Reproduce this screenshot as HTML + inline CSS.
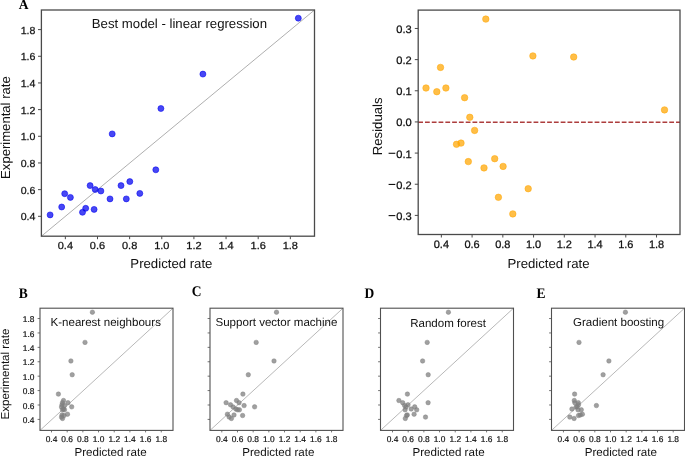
<!DOCTYPE html>
<html><head><meta charset="utf-8"><style>
html,body{margin:0;padding:0;background:#fff;}
body{width:685px;height:457px;overflow:hidden;font-family:"Liberation Sans", sans-serif;}
svg{display:block;will-change:transform;text-rendering:geometricPrecision;}
</style></head><body>
<svg width="685" height="457" viewBox="0 0 685 457">
<rect width="685" height="457" fill="#fff"/>
<line x1="41.4" y1="236.2" x2="314.5" y2="10" stroke="#9a9a9a" stroke-width="0.8"/>
<circle cx="50.1" cy="214.9" r="3" fill="#0000f0" fill-opacity="0.72" stroke="#0000f0" stroke-opacity="0.72" stroke-width="0.75"/>
<circle cx="61.7" cy="207" r="3" fill="#0000f0" fill-opacity="0.72" stroke="#0000f0" stroke-opacity="0.72" stroke-width="0.75"/>
<circle cx="64.7" cy="193.7" r="3" fill="#0000f0" fill-opacity="0.72" stroke="#0000f0" stroke-opacity="0.72" stroke-width="0.75"/>
<circle cx="70.4" cy="197.4" r="3" fill="#0000f0" fill-opacity="0.72" stroke="#0000f0" stroke-opacity="0.72" stroke-width="0.75"/>
<circle cx="82.5" cy="212.3" r="3" fill="#0000f0" fill-opacity="0.72" stroke="#0000f0" stroke-opacity="0.72" stroke-width="0.75"/>
<circle cx="85.7" cy="208.3" r="3" fill="#0000f0" fill-opacity="0.72" stroke="#0000f0" stroke-opacity="0.72" stroke-width="0.75"/>
<circle cx="90.1" cy="185.6" r="3" fill="#0000f0" fill-opacity="0.72" stroke="#0000f0" stroke-opacity="0.72" stroke-width="0.75"/>
<circle cx="94.1" cy="209.4" r="3" fill="#0000f0" fill-opacity="0.72" stroke="#0000f0" stroke-opacity="0.72" stroke-width="0.75"/>
<circle cx="95.2" cy="189.5" r="3" fill="#0000f0" fill-opacity="0.72" stroke="#0000f0" stroke-opacity="0.72" stroke-width="0.75"/>
<circle cx="100.9" cy="191" r="3" fill="#0000f0" fill-opacity="0.72" stroke="#0000f0" stroke-opacity="0.72" stroke-width="0.75"/>
<circle cx="110" cy="198.9" r="3" fill="#0000f0" fill-opacity="0.72" stroke="#0000f0" stroke-opacity="0.72" stroke-width="0.75"/>
<circle cx="121" cy="185.6" r="3" fill="#0000f0" fill-opacity="0.72" stroke="#0000f0" stroke-opacity="0.72" stroke-width="0.75"/>
<circle cx="126.3" cy="198.9" r="3" fill="#0000f0" fill-opacity="0.72" stroke="#0000f0" stroke-opacity="0.72" stroke-width="0.75"/>
<circle cx="129.8" cy="181.6" r="3" fill="#0000f0" fill-opacity="0.72" stroke="#0000f0" stroke-opacity="0.72" stroke-width="0.75"/>
<circle cx="139.8" cy="193.4" r="3" fill="#0000f0" fill-opacity="0.72" stroke="#0000f0" stroke-opacity="0.72" stroke-width="0.75"/>
<circle cx="155.8" cy="169.8" r="3" fill="#0000f0" fill-opacity="0.72" stroke="#0000f0" stroke-opacity="0.72" stroke-width="0.75"/>
<circle cx="112.2" cy="133.9" r="3" fill="#0000f0" fill-opacity="0.72" stroke="#0000f0" stroke-opacity="0.72" stroke-width="0.75"/>
<circle cx="160.9" cy="108.5" r="3" fill="#0000f0" fill-opacity="0.72" stroke="#0000f0" stroke-opacity="0.72" stroke-width="0.75"/>
<circle cx="202.9" cy="74.1" r="3" fill="#0000f0" fill-opacity="0.72" stroke="#0000f0" stroke-opacity="0.72" stroke-width="0.75"/>
<circle cx="298.3" cy="18.2" r="3" fill="#0000f0" fill-opacity="0.72" stroke="#0000f0" stroke-opacity="0.72" stroke-width="0.75"/>
<rect x="41.4" y="10" width="273.1" height="226.2" fill="none" stroke="#4a4a4a" stroke-width="1.3"/>
<line x1="38" y1="216.3" x2="41.4" y2="216.3" stroke="#4a4a4a" stroke-width="1.0"/>
<text x="0" y="0" font-size="10.2" text-anchor="end" font-family='"Liberation Sans", sans-serif' font-weight="normal" fill="#111" stroke="#111" stroke-width="0.25" transform="translate(35.4 220.3) scale(1.04 1)">0.4</text>
<line x1="65.35" y1="236.2" x2="65.35" y2="239.2" stroke="#4a4a4a" stroke-width="1.0"/>
<text x="0" y="0" font-size="10.2" text-anchor="middle" font-family='"Liberation Sans", sans-serif' font-weight="normal" fill="#111" stroke="#111" stroke-width="0.25" transform="translate(65.35 248.8) scale(1.08 1)">0.4</text>
<line x1="38" y1="189.63" x2="41.4" y2="189.63" stroke="#4a4a4a" stroke-width="1.0"/>
<text x="0" y="0" font-size="10.2" text-anchor="end" font-family='"Liberation Sans", sans-serif' font-weight="normal" fill="#111" stroke="#111" stroke-width="0.25" transform="translate(35.4 193.63) scale(1.04 1)">0.6</text>
<line x1="97.49" y1="236.2" x2="97.49" y2="239.2" stroke="#4a4a4a" stroke-width="1.0"/>
<text x="0" y="0" font-size="10.2" text-anchor="middle" font-family='"Liberation Sans", sans-serif' font-weight="normal" fill="#111" stroke="#111" stroke-width="0.25" transform="translate(97.49 248.8) scale(1.08 1)">0.6</text>
<line x1="38" y1="162.96" x2="41.4" y2="162.96" stroke="#4a4a4a" stroke-width="1.0"/>
<text x="0" y="0" font-size="10.2" text-anchor="end" font-family='"Liberation Sans", sans-serif' font-weight="normal" fill="#111" stroke="#111" stroke-width="0.25" transform="translate(35.4 166.96) scale(1.04 1)">0.8</text>
<line x1="129.63" y1="236.2" x2="129.63" y2="239.2" stroke="#4a4a4a" stroke-width="1.0"/>
<text x="0" y="0" font-size="10.2" text-anchor="middle" font-family='"Liberation Sans", sans-serif' font-weight="normal" fill="#111" stroke="#111" stroke-width="0.25" transform="translate(129.63 248.8) scale(1.08 1)">0.8</text>
<line x1="38" y1="136.28" x2="41.4" y2="136.28" stroke="#4a4a4a" stroke-width="1.0"/>
<text x="0" y="0" font-size="10.2" text-anchor="end" font-family='"Liberation Sans", sans-serif' font-weight="normal" fill="#111" stroke="#111" stroke-width="0.25" transform="translate(35.4 140.28) scale(1.04 1)">1.0</text>
<line x1="161.77" y1="236.2" x2="161.77" y2="239.2" stroke="#4a4a4a" stroke-width="1.0"/>
<text x="0" y="0" font-size="10.2" text-anchor="middle" font-family='"Liberation Sans", sans-serif' font-weight="normal" fill="#111" stroke="#111" stroke-width="0.25" transform="translate(161.77 248.8) scale(1.08 1)">1.0</text>
<line x1="38" y1="109.61" x2="41.4" y2="109.61" stroke="#4a4a4a" stroke-width="1.0"/>
<text x="0" y="0" font-size="10.2" text-anchor="end" font-family='"Liberation Sans", sans-serif' font-weight="normal" fill="#111" stroke="#111" stroke-width="0.25" transform="translate(35.4 113.61) scale(1.04 1)">1.2</text>
<line x1="193.91" y1="236.2" x2="193.91" y2="239.2" stroke="#4a4a4a" stroke-width="1.0"/>
<text x="0" y="0" font-size="10.2" text-anchor="middle" font-family='"Liberation Sans", sans-serif' font-weight="normal" fill="#111" stroke="#111" stroke-width="0.25" transform="translate(193.91 248.8) scale(1.08 1)">1.2</text>
<line x1="38" y1="82.94" x2="41.4" y2="82.94" stroke="#4a4a4a" stroke-width="1.0"/>
<text x="0" y="0" font-size="10.2" text-anchor="end" font-family='"Liberation Sans", sans-serif' font-weight="normal" fill="#111" stroke="#111" stroke-width="0.25" transform="translate(35.4 86.94) scale(1.04 1)">1.4</text>
<line x1="226.05" y1="236.2" x2="226.05" y2="239.2" stroke="#4a4a4a" stroke-width="1.0"/>
<text x="0" y="0" font-size="10.2" text-anchor="middle" font-family='"Liberation Sans", sans-serif' font-weight="normal" fill="#111" stroke="#111" stroke-width="0.25" transform="translate(226.05 248.8) scale(1.08 1)">1.4</text>
<line x1="38" y1="56.27" x2="41.4" y2="56.27" stroke="#4a4a4a" stroke-width="1.0"/>
<text x="0" y="0" font-size="10.2" text-anchor="end" font-family='"Liberation Sans", sans-serif' font-weight="normal" fill="#111" stroke="#111" stroke-width="0.25" transform="translate(35.4 60.27) scale(1.04 1)">1.6</text>
<line x1="258.19" y1="236.2" x2="258.19" y2="239.2" stroke="#4a4a4a" stroke-width="1.0"/>
<text x="0" y="0" font-size="10.2" text-anchor="middle" font-family='"Liberation Sans", sans-serif' font-weight="normal" fill="#111" stroke="#111" stroke-width="0.25" transform="translate(258.19 248.8) scale(1.08 1)">1.6</text>
<line x1="38" y1="29.6" x2="41.4" y2="29.6" stroke="#4a4a4a" stroke-width="1.0"/>
<text x="0" y="0" font-size="10.2" text-anchor="end" font-family='"Liberation Sans", sans-serif' font-weight="normal" fill="#111" stroke="#111" stroke-width="0.25" transform="translate(35.4 33.6) scale(1.04 1)">1.8</text>
<line x1="290.33" y1="236.2" x2="290.33" y2="239.2" stroke="#4a4a4a" stroke-width="1.0"/>
<text x="0" y="0" font-size="10.2" text-anchor="middle" font-family='"Liberation Sans", sans-serif' font-weight="normal" fill="#111" stroke="#111" stroke-width="0.25" transform="translate(290.33 248.8) scale(1.08 1)">1.8</text>
<text x="179.4" y="27.9" font-size="13.2" text-anchor="middle" font-family='"Liberation Sans", sans-serif' font-weight="normal" fill="#111">Best model - linear regression</text>
<text x="171.4" y="267.9" font-size="13.2" text-anchor="middle" font-family='"Liberation Sans", sans-serif' font-weight="normal" fill="#111">Predicted rate</text>
<text x="9.8" y="127.6" font-size="13.1" text-anchor="middle" font-family='"Liberation Sans", sans-serif' font-weight="normal" fill="#111" transform="rotate(-90 9.8 127.6)">Experimental rate</text>
<text transform="translate(23.5 9.1) scale(1 1.0)" x="0" y="0" font-size="13.5" text-anchor="middle" font-family='"Liberation Serif", serif' font-weight="bold" fill="#000">A</text>
<line x1="418.2" y1="122.15" x2="680" y2="122.15" stroke="#ad3d3d" stroke-width="1.55" stroke-dasharray="4.78 2.005"/>
<circle cx="440.5" cy="67.4" r="3.25" fill="#ffa500" fill-opacity="0.72" stroke="#ffa500" stroke-opacity="0.72" stroke-width="0.7"/>
<circle cx="426" cy="88" r="3.25" fill="#ffa500" fill-opacity="0.72" stroke="#ffa500" stroke-opacity="0.72" stroke-width="0.7"/>
<circle cx="436.8" cy="91.7" r="3.25" fill="#ffa500" fill-opacity="0.72" stroke="#ffa500" stroke-opacity="0.72" stroke-width="0.7"/>
<circle cx="445.9" cy="88" r="3.25" fill="#ffa500" fill-opacity="0.72" stroke="#ffa500" stroke-opacity="0.72" stroke-width="0.7"/>
<circle cx="464.6" cy="97.7" r="3.25" fill="#ffa500" fill-opacity="0.72" stroke="#ffa500" stroke-opacity="0.72" stroke-width="0.7"/>
<circle cx="469.8" cy="117.3" r="3.25" fill="#ffa500" fill-opacity="0.72" stroke="#ffa500" stroke-opacity="0.72" stroke-width="0.7"/>
<circle cx="474.6" cy="130.4" r="3.25" fill="#ffa500" fill-opacity="0.72" stroke="#ffa500" stroke-opacity="0.72" stroke-width="0.7"/>
<circle cx="456.5" cy="144.3" r="3.25" fill="#ffa500" fill-opacity="0.72" stroke="#ffa500" stroke-opacity="0.72" stroke-width="0.7"/>
<circle cx="461" cy="143.1" r="3.25" fill="#ffa500" fill-opacity="0.72" stroke="#ffa500" stroke-opacity="0.72" stroke-width="0.7"/>
<circle cx="468.3" cy="161.6" r="3.25" fill="#ffa500" fill-opacity="0.72" stroke="#ffa500" stroke-opacity="0.72" stroke-width="0.7"/>
<circle cx="484" cy="167.9" r="3.25" fill="#ffa500" fill-opacity="0.72" stroke="#ffa500" stroke-opacity="0.72" stroke-width="0.7"/>
<circle cx="494.7" cy="158.7" r="3.25" fill="#ffa500" fill-opacity="0.72" stroke="#ffa500" stroke-opacity="0.72" stroke-width="0.7"/>
<circle cx="503.1" cy="166.4" r="3.25" fill="#ffa500" fill-opacity="0.72" stroke="#ffa500" stroke-opacity="0.72" stroke-width="0.7"/>
<circle cx="528.2" cy="188.7" r="3.25" fill="#ffa500" fill-opacity="0.72" stroke="#ffa500" stroke-opacity="0.72" stroke-width="0.7"/>
<circle cx="498.4" cy="197.3" r="3.25" fill="#ffa500" fill-opacity="0.72" stroke="#ffa500" stroke-opacity="0.72" stroke-width="0.7"/>
<circle cx="512.8" cy="213.9" r="3.25" fill="#ffa500" fill-opacity="0.72" stroke="#ffa500" stroke-opacity="0.72" stroke-width="0.7"/>
<circle cx="532.9" cy="55.9" r="3.25" fill="#ffa500" fill-opacity="0.72" stroke="#ffa500" stroke-opacity="0.72" stroke-width="0.7"/>
<circle cx="573.7" cy="57" r="3.25" fill="#ffa500" fill-opacity="0.72" stroke="#ffa500" stroke-opacity="0.72" stroke-width="0.7"/>
<circle cx="664.5" cy="109.9" r="3.25" fill="#ffa500" fill-opacity="0.72" stroke="#ffa500" stroke-opacity="0.72" stroke-width="0.7"/>
<circle cx="485.8" cy="19.1" r="3.25" fill="#ffa500" fill-opacity="0.72" stroke="#ffa500" stroke-opacity="0.72" stroke-width="0.7"/>
<rect x="418.2" y="10.1" width="261.8" height="224.4" fill="none" stroke="#4a4a4a" stroke-width="1.3"/>
<line x1="414.8" y1="28.47" x2="418.2" y2="28.47" stroke="#4a4a4a" stroke-width="1.0"/>
<text x="0" y="0" font-size="10.8" text-anchor="end" font-family='"Liberation Sans", sans-serif' font-weight="normal" fill="#111" stroke="#111" stroke-width="0.25" transform="translate(411.8 32.97) scale(1.03 1)">0.3</text>
<line x1="414.8" y1="59.62" x2="418.2" y2="59.62" stroke="#4a4a4a" stroke-width="1.0"/>
<text x="0" y="0" font-size="10.8" text-anchor="end" font-family='"Liberation Sans", sans-serif' font-weight="normal" fill="#111" stroke="#111" stroke-width="0.25" transform="translate(411.8 64.12) scale(1.03 1)">0.2</text>
<line x1="414.8" y1="90.78" x2="418.2" y2="90.78" stroke="#4a4a4a" stroke-width="1.0"/>
<text x="0" y="0" font-size="10.8" text-anchor="end" font-family='"Liberation Sans", sans-serif' font-weight="normal" fill="#111" stroke="#111" stroke-width="0.25" transform="translate(411.8 95.28) scale(1.03 1)">0.1</text>
<line x1="414.8" y1="121.93" x2="418.2" y2="121.93" stroke="#4a4a4a" stroke-width="1.0"/>
<text x="0" y="0" font-size="10.8" text-anchor="end" font-family='"Liberation Sans", sans-serif' font-weight="normal" fill="#111" stroke="#111" stroke-width="0.25" transform="translate(411.8 126.43) scale(1.03 1)">0.0</text>
<line x1="414.8" y1="153.09" x2="418.2" y2="153.09" stroke="#4a4a4a" stroke-width="1.0"/>
<text x="0" y="0" font-size="10.8" text-anchor="end" font-family='"Liberation Sans", sans-serif' font-weight="normal" fill="#111" stroke="#111" stroke-width="0.25" transform="translate(411.8 157.59) scale(1.03 1)">0.1</text>
<rect x="388.6" y="152.74" width="6.7" height="1.1" fill="#111"/>
<line x1="414.8" y1="184.24" x2="418.2" y2="184.24" stroke="#4a4a4a" stroke-width="1.0"/>
<text x="0" y="0" font-size="10.8" text-anchor="end" font-family='"Liberation Sans", sans-serif' font-weight="normal" fill="#111" stroke="#111" stroke-width="0.25" transform="translate(411.8 188.74) scale(1.03 1)">0.2</text>
<rect x="388.6" y="183.89" width="6.7" height="1.1" fill="#111"/>
<line x1="414.8" y1="215.4" x2="418.2" y2="215.4" stroke="#4a4a4a" stroke-width="1.0"/>
<text x="0" y="0" font-size="10.8" text-anchor="end" font-family='"Liberation Sans", sans-serif' font-weight="normal" fill="#111" stroke="#111" stroke-width="0.25" transform="translate(411.8 219.9) scale(1.03 1)">0.3</text>
<rect x="388.6" y="215.05" width="6.7" height="1.1" fill="#111"/>
<line x1="441.35" y1="234.5" x2="441.35" y2="237.5" stroke="#4a4a4a" stroke-width="1.0"/>
<text x="0" y="0" font-size="10.8" text-anchor="middle" font-family='"Liberation Sans", sans-serif' font-weight="normal" fill="#111" stroke="#111" stroke-width="0.25" transform="translate(441.35 248.2) scale(1.02 1)">0.4</text>
<line x1="472.09" y1="234.5" x2="472.09" y2="237.5" stroke="#4a4a4a" stroke-width="1.0"/>
<text x="0" y="0" font-size="10.8" text-anchor="middle" font-family='"Liberation Sans", sans-serif' font-weight="normal" fill="#111" stroke="#111" stroke-width="0.25" transform="translate(472.09 248.2) scale(1.02 1)">0.6</text>
<line x1="502.83" y1="234.5" x2="502.83" y2="237.5" stroke="#4a4a4a" stroke-width="1.0"/>
<text x="0" y="0" font-size="10.8" text-anchor="middle" font-family='"Liberation Sans", sans-serif' font-weight="normal" fill="#111" stroke="#111" stroke-width="0.25" transform="translate(502.83 248.2) scale(1.02 1)">0.8</text>
<line x1="533.57" y1="234.5" x2="533.57" y2="237.5" stroke="#4a4a4a" stroke-width="1.0"/>
<text x="0" y="0" font-size="10.8" text-anchor="middle" font-family='"Liberation Sans", sans-serif' font-weight="normal" fill="#111" stroke="#111" stroke-width="0.25" transform="translate(533.57 248.2) scale(1.02 1)">1.0</text>
<line x1="564.31" y1="234.5" x2="564.31" y2="237.5" stroke="#4a4a4a" stroke-width="1.0"/>
<text x="0" y="0" font-size="10.8" text-anchor="middle" font-family='"Liberation Sans", sans-serif' font-weight="normal" fill="#111" stroke="#111" stroke-width="0.25" transform="translate(564.31 248.2) scale(1.02 1)">1.2</text>
<line x1="595.05" y1="234.5" x2="595.05" y2="237.5" stroke="#4a4a4a" stroke-width="1.0"/>
<text x="0" y="0" font-size="10.8" text-anchor="middle" font-family='"Liberation Sans", sans-serif' font-weight="normal" fill="#111" stroke="#111" stroke-width="0.25" transform="translate(595.05 248.2) scale(1.02 1)">1.4</text>
<line x1="625.79" y1="234.5" x2="625.79" y2="237.5" stroke="#4a4a4a" stroke-width="1.0"/>
<text x="0" y="0" font-size="10.8" text-anchor="middle" font-family='"Liberation Sans", sans-serif' font-weight="normal" fill="#111" stroke="#111" stroke-width="0.25" transform="translate(625.79 248.2) scale(1.02 1)">1.6</text>
<line x1="656.53" y1="234.5" x2="656.53" y2="237.5" stroke="#4a4a4a" stroke-width="1.0"/>
<text x="0" y="0" font-size="10.8" text-anchor="middle" font-family='"Liberation Sans", sans-serif' font-weight="normal" fill="#111" stroke="#111" stroke-width="0.25" transform="translate(656.53 248.2) scale(1.02 1)">1.8</text>
<text x="548.5" y="268" font-size="13.2" text-anchor="middle" font-family='"Liberation Sans", sans-serif' font-weight="normal" fill="#111">Predicted rate</text>
<text x="382.2" y="126.35" font-size="13.2" text-anchor="middle" font-family='"Liberation Sans", sans-serif' font-weight="normal" fill="#111" transform="rotate(-90 382.2 126.35)">Residuals</text>
<line x1="40" y1="430.4" x2="173" y2="308.2" stroke="#9a9a9a" stroke-width="0.7"/>
<circle cx="92.4" cy="312.19" r="2.25" fill="#808080" fill-opacity="0.75" stroke="#808080" stroke-opacity="0.75" stroke-width="0.6"/>
<circle cx="85" cy="342.38" r="2.25" fill="#808080" fill-opacity="0.75" stroke="#808080" stroke-opacity="0.75" stroke-width="0.6"/>
<circle cx="70.9" cy="360.97" r="2.25" fill="#808080" fill-opacity="0.75" stroke="#808080" stroke-opacity="0.75" stroke-width="0.6"/>
<circle cx="72.2" cy="374.73" r="2.25" fill="#808080" fill-opacity="0.75" stroke="#808080" stroke-opacity="0.75" stroke-width="0.6"/>
<circle cx="58.4" cy="394.11" r="2.25" fill="#808080" fill-opacity="0.75" stroke="#808080" stroke-opacity="0.75" stroke-width="0.6"/>
<circle cx="63.5" cy="400.52" r="2.25" fill="#808080" fill-opacity="0.75" stroke="#808080" stroke-opacity="0.75" stroke-width="0.6"/>
<circle cx="62.5" cy="402.68" r="2.25" fill="#808080" fill-opacity="0.75" stroke="#808080" stroke-opacity="0.75" stroke-width="0.6"/>
<circle cx="68" cy="402.68" r="2.25" fill="#808080" fill-opacity="0.75" stroke="#808080" stroke-opacity="0.75" stroke-width="0.6"/>
<circle cx="62" cy="404.77" r="2.25" fill="#808080" fill-opacity="0.75" stroke="#808080" stroke-opacity="0.75" stroke-width="0.6"/>
<circle cx="64.5" cy="405.57" r="2.25" fill="#808080" fill-opacity="0.75" stroke="#808080" stroke-opacity="0.75" stroke-width="0.6"/>
<circle cx="71.7" cy="406.86" r="2.25" fill="#808080" fill-opacity="0.75" stroke="#808080" stroke-opacity="0.75" stroke-width="0.6"/>
<circle cx="61.5" cy="407.01" r="2.25" fill="#808080" fill-opacity="0.75" stroke="#808080" stroke-opacity="0.75" stroke-width="0.6"/>
<circle cx="63.5" cy="409.02" r="2.25" fill="#808080" fill-opacity="0.75" stroke="#808080" stroke-opacity="0.75" stroke-width="0.6"/>
<circle cx="62.5" cy="409.82" r="2.25" fill="#808080" fill-opacity="0.75" stroke="#808080" stroke-opacity="0.75" stroke-width="0.6"/>
<circle cx="64.5" cy="409.82" r="2.25" fill="#808080" fill-opacity="0.75" stroke="#808080" stroke-opacity="0.75" stroke-width="0.6"/>
<circle cx="67.5" cy="414.21" r="2.25" fill="#808080" fill-opacity="0.75" stroke="#808080" stroke-opacity="0.75" stroke-width="0.6"/>
<circle cx="62" cy="414.93" r="2.25" fill="#808080" fill-opacity="0.75" stroke="#808080" stroke-opacity="0.75" stroke-width="0.6"/>
<circle cx="64" cy="415.51" r="2.25" fill="#808080" fill-opacity="0.75" stroke="#808080" stroke-opacity="0.75" stroke-width="0.6"/>
<circle cx="61.5" cy="417.09" r="2.25" fill="#808080" fill-opacity="0.75" stroke="#808080" stroke-opacity="0.75" stroke-width="0.6"/>
<circle cx="62.5" cy="418.46" r="2.25" fill="#808080" fill-opacity="0.75" stroke="#808080" stroke-opacity="0.75" stroke-width="0.6"/>
<rect x="40" y="308.2" width="133" height="122.2" fill="none" stroke="#505050" stroke-width="1.1"/>
<line x1="37.6" y1="419.4" x2="40" y2="419.4" stroke="#505050" stroke-width="0.8"/>
<line x1="51.5" y1="430.4" x2="51.5" y2="432.4" stroke="#505050" stroke-width="0.8"/>
<text x="51.5" y="441.6" font-size="8.4" text-anchor="middle" font-family='"Liberation Sans", sans-serif' font-weight="normal" fill="#111" stroke="#111" stroke-width="0.2">0.4</text>
<text x="34.4" y="423" font-size="8.4" text-anchor="end" font-family='"Liberation Sans", sans-serif' font-weight="normal" fill="#111" stroke="#111" stroke-width="0.2">0.4</text>
<line x1="37.6" y1="404.99" x2="40" y2="404.99" stroke="#505050" stroke-width="0.8"/>
<line x1="67.18" y1="430.4" x2="67.18" y2="432.4" stroke="#505050" stroke-width="0.8"/>
<text x="67.18" y="441.6" font-size="8.4" text-anchor="middle" font-family='"Liberation Sans", sans-serif' font-weight="normal" fill="#111" stroke="#111" stroke-width="0.2">0.6</text>
<text x="34.4" y="408.59" font-size="8.4" text-anchor="end" font-family='"Liberation Sans", sans-serif' font-weight="normal" fill="#111" stroke="#111" stroke-width="0.2">0.6</text>
<line x1="37.6" y1="390.58" x2="40" y2="390.58" stroke="#505050" stroke-width="0.8"/>
<line x1="82.86" y1="430.4" x2="82.86" y2="432.4" stroke="#505050" stroke-width="0.8"/>
<text x="82.86" y="441.6" font-size="8.4" text-anchor="middle" font-family='"Liberation Sans", sans-serif' font-weight="normal" fill="#111" stroke="#111" stroke-width="0.2">0.8</text>
<text x="34.4" y="394.18" font-size="8.4" text-anchor="end" font-family='"Liberation Sans", sans-serif' font-weight="normal" fill="#111" stroke="#111" stroke-width="0.2">0.8</text>
<line x1="37.6" y1="376.17" x2="40" y2="376.17" stroke="#505050" stroke-width="0.8"/>
<line x1="98.54" y1="430.4" x2="98.54" y2="432.4" stroke="#505050" stroke-width="0.8"/>
<text x="98.54" y="441.6" font-size="8.4" text-anchor="middle" font-family='"Liberation Sans", sans-serif' font-weight="normal" fill="#111" stroke="#111" stroke-width="0.2">1.0</text>
<text x="34.4" y="379.77" font-size="8.4" text-anchor="end" font-family='"Liberation Sans", sans-serif' font-weight="normal" fill="#111" stroke="#111" stroke-width="0.2">1.0</text>
<line x1="37.6" y1="361.76" x2="40" y2="361.76" stroke="#505050" stroke-width="0.8"/>
<line x1="114.22" y1="430.4" x2="114.22" y2="432.4" stroke="#505050" stroke-width="0.8"/>
<text x="114.22" y="441.6" font-size="8.4" text-anchor="middle" font-family='"Liberation Sans", sans-serif' font-weight="normal" fill="#111" stroke="#111" stroke-width="0.2">1.2</text>
<text x="34.4" y="365.36" font-size="8.4" text-anchor="end" font-family='"Liberation Sans", sans-serif' font-weight="normal" fill="#111" stroke="#111" stroke-width="0.2">1.2</text>
<line x1="37.6" y1="347.35" x2="40" y2="347.35" stroke="#505050" stroke-width="0.8"/>
<line x1="129.9" y1="430.4" x2="129.9" y2="432.4" stroke="#505050" stroke-width="0.8"/>
<text x="129.9" y="441.6" font-size="8.4" text-anchor="middle" font-family='"Liberation Sans", sans-serif' font-weight="normal" fill="#111" stroke="#111" stroke-width="0.2">1.4</text>
<text x="34.4" y="350.95" font-size="8.4" text-anchor="end" font-family='"Liberation Sans", sans-serif' font-weight="normal" fill="#111" stroke="#111" stroke-width="0.2">1.4</text>
<line x1="37.6" y1="332.94" x2="40" y2="332.94" stroke="#505050" stroke-width="0.8"/>
<line x1="145.58" y1="430.4" x2="145.58" y2="432.4" stroke="#505050" stroke-width="0.8"/>
<text x="145.58" y="441.6" font-size="8.4" text-anchor="middle" font-family='"Liberation Sans", sans-serif' font-weight="normal" fill="#111" stroke="#111" stroke-width="0.2">1.6</text>
<text x="34.4" y="336.54" font-size="8.4" text-anchor="end" font-family='"Liberation Sans", sans-serif' font-weight="normal" fill="#111" stroke="#111" stroke-width="0.2">1.6</text>
<line x1="37.6" y1="318.53" x2="40" y2="318.53" stroke="#505050" stroke-width="0.8"/>
<line x1="161.26" y1="430.4" x2="161.26" y2="432.4" stroke="#505050" stroke-width="0.8"/>
<text x="161.26" y="441.6" font-size="8.4" text-anchor="middle" font-family='"Liberation Sans", sans-serif' font-weight="normal" fill="#111" stroke="#111" stroke-width="0.2">1.8</text>
<text x="34.4" y="322.13" font-size="8.4" text-anchor="end" font-family='"Liberation Sans", sans-serif' font-weight="normal" fill="#111" stroke="#111" stroke-width="0.2">1.8</text>
<text x="50.5" y="326" font-size="11.55" text-anchor="start" font-family='"Liberation Sans", sans-serif' font-weight="normal" fill="#111">K-nearest neighbours</text>
<text x="110.5" y="456.2" font-size="11.6" text-anchor="middle" font-family='"Liberation Sans", sans-serif' font-weight="normal" fill="#111">Predicted rate</text>
<text transform="translate(23.3 297.8) scale(1 1.09)" x="0" y="0" font-size="13.5" text-anchor="middle" font-family='"Liberation Serif", serif' font-weight="bold" fill="#000">B</text>
<line x1="210" y1="430.4" x2="343" y2="308.2" stroke="#9a9a9a" stroke-width="0.7"/>
<circle cx="276.5" cy="312.19" r="2.25" fill="#808080" fill-opacity="0.75" stroke="#808080" stroke-opacity="0.75" stroke-width="0.6"/>
<circle cx="256.2" cy="342.38" r="2.25" fill="#808080" fill-opacity="0.75" stroke="#808080" stroke-opacity="0.75" stroke-width="0.6"/>
<circle cx="274" cy="360.97" r="2.25" fill="#808080" fill-opacity="0.75" stroke="#808080" stroke-opacity="0.75" stroke-width="0.6"/>
<circle cx="248.3" cy="374.73" r="2.25" fill="#808080" fill-opacity="0.75" stroke="#808080" stroke-opacity="0.75" stroke-width="0.6"/>
<circle cx="242.9" cy="394.11" r="2.25" fill="#808080" fill-opacity="0.75" stroke="#808080" stroke-opacity="0.75" stroke-width="0.6"/>
<circle cx="236.5" cy="400.52" r="2.25" fill="#808080" fill-opacity="0.75" stroke="#808080" stroke-opacity="0.75" stroke-width="0.6"/>
<circle cx="239.1" cy="402.68" r="2.25" fill="#808080" fill-opacity="0.75" stroke="#808080" stroke-opacity="0.75" stroke-width="0.6"/>
<circle cx="226.1" cy="402.68" r="2.25" fill="#808080" fill-opacity="0.75" stroke="#808080" stroke-opacity="0.75" stroke-width="0.6"/>
<circle cx="230.5" cy="404.77" r="2.25" fill="#808080" fill-opacity="0.75" stroke="#808080" stroke-opacity="0.75" stroke-width="0.6"/>
<circle cx="244.1" cy="405.57" r="2.25" fill="#808080" fill-opacity="0.75" stroke="#808080" stroke-opacity="0.75" stroke-width="0.6"/>
<circle cx="254.6" cy="406.86" r="2.25" fill="#808080" fill-opacity="0.75" stroke="#808080" stroke-opacity="0.75" stroke-width="0.6"/>
<circle cx="233.1" cy="407.01" r="2.25" fill="#808080" fill-opacity="0.75" stroke="#808080" stroke-opacity="0.75" stroke-width="0.6"/>
<circle cx="235.8" cy="409.02" r="2.25" fill="#808080" fill-opacity="0.75" stroke="#808080" stroke-opacity="0.75" stroke-width="0.6"/>
<circle cx="239.4" cy="409.82" r="2.25" fill="#808080" fill-opacity="0.75" stroke="#808080" stroke-opacity="0.75" stroke-width="0.6"/>
<circle cx="237.5" cy="409.82" r="2.25" fill="#808080" fill-opacity="0.75" stroke="#808080" stroke-opacity="0.75" stroke-width="0.6"/>
<circle cx="227.4" cy="414.21" r="2.25" fill="#808080" fill-opacity="0.75" stroke="#808080" stroke-opacity="0.75" stroke-width="0.6"/>
<circle cx="234" cy="414.93" r="2.25" fill="#808080" fill-opacity="0.75" stroke="#808080" stroke-opacity="0.75" stroke-width="0.6"/>
<circle cx="242.6" cy="415.51" r="2.25" fill="#808080" fill-opacity="0.75" stroke="#808080" stroke-opacity="0.75" stroke-width="0.6"/>
<circle cx="229.2" cy="417.09" r="2.25" fill="#808080" fill-opacity="0.75" stroke="#808080" stroke-opacity="0.75" stroke-width="0.6"/>
<circle cx="231.4" cy="418.46" r="2.25" fill="#808080" fill-opacity="0.75" stroke="#808080" stroke-opacity="0.75" stroke-width="0.6"/>
<rect x="210" y="308.2" width="133" height="122.2" fill="none" stroke="#505050" stroke-width="1.1"/>
<line x1="207.6" y1="419.4" x2="210" y2="419.4" stroke="#505050" stroke-width="0.8"/>
<line x1="221.8" y1="430.4" x2="221.8" y2="432.4" stroke="#505050" stroke-width="0.8"/>
<text x="221.8" y="441.6" font-size="8.4" text-anchor="middle" font-family='"Liberation Sans", sans-serif' font-weight="normal" fill="#111" stroke="#111" stroke-width="0.2">0.4</text>
<line x1="207.6" y1="404.99" x2="210" y2="404.99" stroke="#505050" stroke-width="0.8"/>
<line x1="237.48" y1="430.4" x2="237.48" y2="432.4" stroke="#505050" stroke-width="0.8"/>
<text x="237.48" y="441.6" font-size="8.4" text-anchor="middle" font-family='"Liberation Sans", sans-serif' font-weight="normal" fill="#111" stroke="#111" stroke-width="0.2">0.6</text>
<line x1="207.6" y1="390.58" x2="210" y2="390.58" stroke="#505050" stroke-width="0.8"/>
<line x1="253.16" y1="430.4" x2="253.16" y2="432.4" stroke="#505050" stroke-width="0.8"/>
<text x="253.16" y="441.6" font-size="8.4" text-anchor="middle" font-family='"Liberation Sans", sans-serif' font-weight="normal" fill="#111" stroke="#111" stroke-width="0.2">0.8</text>
<line x1="207.6" y1="376.17" x2="210" y2="376.17" stroke="#505050" stroke-width="0.8"/>
<line x1="268.84" y1="430.4" x2="268.84" y2="432.4" stroke="#505050" stroke-width="0.8"/>
<text x="268.84" y="441.6" font-size="8.4" text-anchor="middle" font-family='"Liberation Sans", sans-serif' font-weight="normal" fill="#111" stroke="#111" stroke-width="0.2">1.0</text>
<line x1="207.6" y1="361.76" x2="210" y2="361.76" stroke="#505050" stroke-width="0.8"/>
<line x1="284.52" y1="430.4" x2="284.52" y2="432.4" stroke="#505050" stroke-width="0.8"/>
<text x="284.52" y="441.6" font-size="8.4" text-anchor="middle" font-family='"Liberation Sans", sans-serif' font-weight="normal" fill="#111" stroke="#111" stroke-width="0.2">1.2</text>
<line x1="207.6" y1="347.35" x2="210" y2="347.35" stroke="#505050" stroke-width="0.8"/>
<line x1="300.2" y1="430.4" x2="300.2" y2="432.4" stroke="#505050" stroke-width="0.8"/>
<text x="300.2" y="441.6" font-size="8.4" text-anchor="middle" font-family='"Liberation Sans", sans-serif' font-weight="normal" fill="#111" stroke="#111" stroke-width="0.2">1.4</text>
<line x1="207.6" y1="332.94" x2="210" y2="332.94" stroke="#505050" stroke-width="0.8"/>
<line x1="315.88" y1="430.4" x2="315.88" y2="432.4" stroke="#505050" stroke-width="0.8"/>
<text x="315.88" y="441.6" font-size="8.4" text-anchor="middle" font-family='"Liberation Sans", sans-serif' font-weight="normal" fill="#111" stroke="#111" stroke-width="0.2">1.6</text>
<line x1="207.6" y1="318.53" x2="210" y2="318.53" stroke="#505050" stroke-width="0.8"/>
<line x1="331.56" y1="430.4" x2="331.56" y2="432.4" stroke="#505050" stroke-width="0.8"/>
<text x="331.56" y="441.6" font-size="8.4" text-anchor="middle" font-family='"Liberation Sans", sans-serif' font-weight="normal" fill="#111" stroke="#111" stroke-width="0.2">1.8</text>
<text x="215.5" y="325.8" font-size="11.55" text-anchor="start" font-family='"Liberation Sans", sans-serif' font-weight="normal" fill="#111">Support vector machine</text>
<text x="278.3" y="456.2" font-size="11.6" text-anchor="middle" font-family='"Liberation Sans", sans-serif' font-weight="normal" fill="#111">Predicted rate</text>
<text transform="translate(196.6 296.3) scale(1 1.09)" x="0" y="0" font-size="13.5" text-anchor="middle" font-family='"Liberation Serif", serif' font-weight="bold" fill="#000">C</text>
<line x1="380.5" y1="430.4" x2="513.5" y2="308.2" stroke="#9a9a9a" stroke-width="0.7"/>
<circle cx="448.4" cy="312.19" r="2.25" fill="#808080" fill-opacity="0.75" stroke="#808080" stroke-opacity="0.75" stroke-width="0.6"/>
<circle cx="427.2" cy="342.38" r="2.25" fill="#808080" fill-opacity="0.75" stroke="#808080" stroke-opacity="0.75" stroke-width="0.6"/>
<circle cx="422.6" cy="360.97" r="2.25" fill="#808080" fill-opacity="0.75" stroke="#808080" stroke-opacity="0.75" stroke-width="0.6"/>
<circle cx="428.2" cy="374.73" r="2.25" fill="#808080" fill-opacity="0.75" stroke="#808080" stroke-opacity="0.75" stroke-width="0.6"/>
<circle cx="407.4" cy="394.11" r="2.25" fill="#808080" fill-opacity="0.75" stroke="#808080" stroke-opacity="0.75" stroke-width="0.6"/>
<circle cx="398.9" cy="400.52" r="2.25" fill="#808080" fill-opacity="0.75" stroke="#808080" stroke-opacity="0.75" stroke-width="0.6"/>
<circle cx="402.7" cy="402.68" r="2.25" fill="#808080" fill-opacity="0.75" stroke="#808080" stroke-opacity="0.75" stroke-width="0.6"/>
<circle cx="428.1" cy="402.68" r="2.25" fill="#808080" fill-opacity="0.75" stroke="#808080" stroke-opacity="0.75" stroke-width="0.6"/>
<circle cx="408" cy="404.77" r="2.25" fill="#808080" fill-opacity="0.75" stroke="#808080" stroke-opacity="0.75" stroke-width="0.6"/>
<circle cx="404.6" cy="405.57" r="2.25" fill="#808080" fill-opacity="0.75" stroke="#808080" stroke-opacity="0.75" stroke-width="0.6"/>
<circle cx="414.7" cy="406.86" r="2.25" fill="#808080" fill-opacity="0.75" stroke="#808080" stroke-opacity="0.75" stroke-width="0.6"/>
<circle cx="406" cy="407.01" r="2.25" fill="#808080" fill-opacity="0.75" stroke="#808080" stroke-opacity="0.75" stroke-width="0.6"/>
<circle cx="411.2" cy="409.02" r="2.25" fill="#808080" fill-opacity="0.75" stroke="#808080" stroke-opacity="0.75" stroke-width="0.6"/>
<circle cx="405.1" cy="409.82" r="2.25" fill="#808080" fill-opacity="0.75" stroke="#808080" stroke-opacity="0.75" stroke-width="0.6"/>
<circle cx="416.7" cy="409.82" r="2.25" fill="#808080" fill-opacity="0.75" stroke="#808080" stroke-opacity="0.75" stroke-width="0.6"/>
<circle cx="414.1" cy="414.21" r="2.25" fill="#808080" fill-opacity="0.75" stroke="#808080" stroke-opacity="0.75" stroke-width="0.6"/>
<circle cx="407.3" cy="414.93" r="2.25" fill="#808080" fill-opacity="0.75" stroke="#808080" stroke-opacity="0.75" stroke-width="0.6"/>
<circle cx="406.5" cy="415.51" r="2.25" fill="#808080" fill-opacity="0.75" stroke="#808080" stroke-opacity="0.75" stroke-width="0.6"/>
<circle cx="425.5" cy="417.09" r="2.25" fill="#808080" fill-opacity="0.75" stroke="#808080" stroke-opacity="0.75" stroke-width="0.6"/>
<circle cx="405.3" cy="418.46" r="2.25" fill="#808080" fill-opacity="0.75" stroke="#808080" stroke-opacity="0.75" stroke-width="0.6"/>
<rect x="380.5" y="308.2" width="133" height="122.2" fill="none" stroke="#505050" stroke-width="1.1"/>
<line x1="378.1" y1="419.4" x2="380.5" y2="419.4" stroke="#505050" stroke-width="0.8"/>
<line x1="392.5" y1="430.4" x2="392.5" y2="432.4" stroke="#505050" stroke-width="0.8"/>
<text x="392.5" y="441.6" font-size="8.4" text-anchor="middle" font-family='"Liberation Sans", sans-serif' font-weight="normal" fill="#111" stroke="#111" stroke-width="0.2">0.4</text>
<line x1="378.1" y1="404.99" x2="380.5" y2="404.99" stroke="#505050" stroke-width="0.8"/>
<line x1="408.18" y1="430.4" x2="408.18" y2="432.4" stroke="#505050" stroke-width="0.8"/>
<text x="408.18" y="441.6" font-size="8.4" text-anchor="middle" font-family='"Liberation Sans", sans-serif' font-weight="normal" fill="#111" stroke="#111" stroke-width="0.2">0.6</text>
<line x1="378.1" y1="390.58" x2="380.5" y2="390.58" stroke="#505050" stroke-width="0.8"/>
<line x1="423.86" y1="430.4" x2="423.86" y2="432.4" stroke="#505050" stroke-width="0.8"/>
<text x="423.86" y="441.6" font-size="8.4" text-anchor="middle" font-family='"Liberation Sans", sans-serif' font-weight="normal" fill="#111" stroke="#111" stroke-width="0.2">0.8</text>
<line x1="378.1" y1="376.17" x2="380.5" y2="376.17" stroke="#505050" stroke-width="0.8"/>
<line x1="439.54" y1="430.4" x2="439.54" y2="432.4" stroke="#505050" stroke-width="0.8"/>
<text x="439.54" y="441.6" font-size="8.4" text-anchor="middle" font-family='"Liberation Sans", sans-serif' font-weight="normal" fill="#111" stroke="#111" stroke-width="0.2">1.0</text>
<line x1="378.1" y1="361.76" x2="380.5" y2="361.76" stroke="#505050" stroke-width="0.8"/>
<line x1="455.22" y1="430.4" x2="455.22" y2="432.4" stroke="#505050" stroke-width="0.8"/>
<text x="455.22" y="441.6" font-size="8.4" text-anchor="middle" font-family='"Liberation Sans", sans-serif' font-weight="normal" fill="#111" stroke="#111" stroke-width="0.2">1.2</text>
<line x1="378.1" y1="347.35" x2="380.5" y2="347.35" stroke="#505050" stroke-width="0.8"/>
<line x1="470.9" y1="430.4" x2="470.9" y2="432.4" stroke="#505050" stroke-width="0.8"/>
<text x="470.9" y="441.6" font-size="8.4" text-anchor="middle" font-family='"Liberation Sans", sans-serif' font-weight="normal" fill="#111" stroke="#111" stroke-width="0.2">1.4</text>
<line x1="378.1" y1="332.94" x2="380.5" y2="332.94" stroke="#505050" stroke-width="0.8"/>
<line x1="486.58" y1="430.4" x2="486.58" y2="432.4" stroke="#505050" stroke-width="0.8"/>
<text x="486.58" y="441.6" font-size="8.4" text-anchor="middle" font-family='"Liberation Sans", sans-serif' font-weight="normal" fill="#111" stroke="#111" stroke-width="0.2">1.6</text>
<line x1="378.1" y1="318.53" x2="380.5" y2="318.53" stroke="#505050" stroke-width="0.8"/>
<line x1="502.26" y1="430.4" x2="502.26" y2="432.4" stroke="#505050" stroke-width="0.8"/>
<text x="502.26" y="441.6" font-size="8.4" text-anchor="middle" font-family='"Liberation Sans", sans-serif' font-weight="normal" fill="#111" stroke="#111" stroke-width="0.2">1.8</text>
<text x="410.2" y="326.8" font-size="11.55" text-anchor="start" font-family='"Liberation Sans", sans-serif' font-weight="normal" fill="#111">Random forest</text>
<text x="448.5" y="456.2" font-size="11.6" text-anchor="middle" font-family='"Liberation Sans", sans-serif' font-weight="normal" fill="#111">Predicted rate</text>
<text transform="translate(369.3 298) scale(1 1.09)" x="0" y="0" font-size="13.5" text-anchor="middle" font-family='"Liberation Serif", serif' font-weight="bold" fill="#000">D</text>
<line x1="551.5" y1="430.4" x2="684.5" y2="308.2" stroke="#9a9a9a" stroke-width="0.7"/>
<circle cx="625.4" cy="312.19" r="2.25" fill="#808080" fill-opacity="0.75" stroke="#808080" stroke-opacity="0.75" stroke-width="0.6"/>
<circle cx="579" cy="342.38" r="2.25" fill="#808080" fill-opacity="0.75" stroke="#808080" stroke-opacity="0.75" stroke-width="0.6"/>
<circle cx="608.9" cy="360.97" r="2.25" fill="#808080" fill-opacity="0.75" stroke="#808080" stroke-opacity="0.75" stroke-width="0.6"/>
<circle cx="603.1" cy="374.73" r="2.25" fill="#808080" fill-opacity="0.75" stroke="#808080" stroke-opacity="0.75" stroke-width="0.6"/>
<circle cx="574.6" cy="394.11" r="2.25" fill="#808080" fill-opacity="0.75" stroke="#808080" stroke-opacity="0.75" stroke-width="0.6"/>
<circle cx="574.3" cy="400.52" r="2.25" fill="#808080" fill-opacity="0.75" stroke="#808080" stroke-opacity="0.75" stroke-width="0.6"/>
<circle cx="574.8" cy="402.68" r="2.25" fill="#808080" fill-opacity="0.75" stroke="#808080" stroke-opacity="0.75" stroke-width="0.6"/>
<circle cx="578.3" cy="402.68" r="2.25" fill="#808080" fill-opacity="0.75" stroke="#808080" stroke-opacity="0.75" stroke-width="0.6"/>
<circle cx="578.5" cy="404.77" r="2.25" fill="#808080" fill-opacity="0.75" stroke="#808080" stroke-opacity="0.75" stroke-width="0.6"/>
<circle cx="596.4" cy="405.57" r="2.25" fill="#808080" fill-opacity="0.75" stroke="#808080" stroke-opacity="0.75" stroke-width="0.6"/>
<circle cx="577.2" cy="406.86" r="2.25" fill="#808080" fill-opacity="0.75" stroke="#808080" stroke-opacity="0.75" stroke-width="0.6"/>
<circle cx="576" cy="407.01" r="2.25" fill="#808080" fill-opacity="0.75" stroke="#808080" stroke-opacity="0.75" stroke-width="0.6"/>
<circle cx="571.9" cy="409.02" r="2.25" fill="#808080" fill-opacity="0.75" stroke="#808080" stroke-opacity="0.75" stroke-width="0.6"/>
<circle cx="581.3" cy="409.82" r="2.25" fill="#808080" fill-opacity="0.75" stroke="#808080" stroke-opacity="0.75" stroke-width="0.6"/>
<circle cx="578" cy="409.82" r="2.25" fill="#808080" fill-opacity="0.75" stroke="#808080" stroke-opacity="0.75" stroke-width="0.6"/>
<circle cx="582.4" cy="414.21" r="2.25" fill="#808080" fill-opacity="0.75" stroke="#808080" stroke-opacity="0.75" stroke-width="0.6"/>
<circle cx="580.3" cy="414.93" r="2.25" fill="#808080" fill-opacity="0.75" stroke="#808080" stroke-opacity="0.75" stroke-width="0.6"/>
<circle cx="578.5" cy="415.51" r="2.25" fill="#808080" fill-opacity="0.75" stroke="#808080" stroke-opacity="0.75" stroke-width="0.6"/>
<circle cx="569.8" cy="417.09" r="2.25" fill="#808080" fill-opacity="0.75" stroke="#808080" stroke-opacity="0.75" stroke-width="0.6"/>
<circle cx="574.1" cy="418.46" r="2.25" fill="#808080" fill-opacity="0.75" stroke="#808080" stroke-opacity="0.75" stroke-width="0.6"/>
<rect x="551.5" y="308.2" width="133" height="122.2" fill="none" stroke="#505050" stroke-width="1.1"/>
<line x1="549.1" y1="419.4" x2="551.5" y2="419.4" stroke="#505050" stroke-width="0.8"/>
<line x1="563.45" y1="430.4" x2="563.45" y2="432.4" stroke="#505050" stroke-width="0.8"/>
<text x="563.45" y="441.6" font-size="8.4" text-anchor="middle" font-family='"Liberation Sans", sans-serif' font-weight="normal" fill="#111" stroke="#111" stroke-width="0.2">0.4</text>
<line x1="549.1" y1="404.99" x2="551.5" y2="404.99" stroke="#505050" stroke-width="0.8"/>
<line x1="579.13" y1="430.4" x2="579.13" y2="432.4" stroke="#505050" stroke-width="0.8"/>
<text x="579.13" y="441.6" font-size="8.4" text-anchor="middle" font-family='"Liberation Sans", sans-serif' font-weight="normal" fill="#111" stroke="#111" stroke-width="0.2">0.6</text>
<line x1="549.1" y1="390.58" x2="551.5" y2="390.58" stroke="#505050" stroke-width="0.8"/>
<line x1="594.81" y1="430.4" x2="594.81" y2="432.4" stroke="#505050" stroke-width="0.8"/>
<text x="594.81" y="441.6" font-size="8.4" text-anchor="middle" font-family='"Liberation Sans", sans-serif' font-weight="normal" fill="#111" stroke="#111" stroke-width="0.2">0.8</text>
<line x1="549.1" y1="376.17" x2="551.5" y2="376.17" stroke="#505050" stroke-width="0.8"/>
<line x1="610.49" y1="430.4" x2="610.49" y2="432.4" stroke="#505050" stroke-width="0.8"/>
<text x="610.49" y="441.6" font-size="8.4" text-anchor="middle" font-family='"Liberation Sans", sans-serif' font-weight="normal" fill="#111" stroke="#111" stroke-width="0.2">1.0</text>
<line x1="549.1" y1="361.76" x2="551.5" y2="361.76" stroke="#505050" stroke-width="0.8"/>
<line x1="626.17" y1="430.4" x2="626.17" y2="432.4" stroke="#505050" stroke-width="0.8"/>
<text x="626.17" y="441.6" font-size="8.4" text-anchor="middle" font-family='"Liberation Sans", sans-serif' font-weight="normal" fill="#111" stroke="#111" stroke-width="0.2">1.2</text>
<line x1="549.1" y1="347.35" x2="551.5" y2="347.35" stroke="#505050" stroke-width="0.8"/>
<line x1="641.85" y1="430.4" x2="641.85" y2="432.4" stroke="#505050" stroke-width="0.8"/>
<text x="641.85" y="441.6" font-size="8.4" text-anchor="middle" font-family='"Liberation Sans", sans-serif' font-weight="normal" fill="#111" stroke="#111" stroke-width="0.2">1.4</text>
<line x1="549.1" y1="332.94" x2="551.5" y2="332.94" stroke="#505050" stroke-width="0.8"/>
<line x1="657.53" y1="430.4" x2="657.53" y2="432.4" stroke="#505050" stroke-width="0.8"/>
<text x="657.53" y="441.6" font-size="8.4" text-anchor="middle" font-family='"Liberation Sans", sans-serif' font-weight="normal" fill="#111" stroke="#111" stroke-width="0.2">1.6</text>
<line x1="549.1" y1="318.53" x2="551.5" y2="318.53" stroke="#505050" stroke-width="0.8"/>
<line x1="673.21" y1="430.4" x2="673.21" y2="432.4" stroke="#505050" stroke-width="0.8"/>
<text x="673.21" y="441.6" font-size="8.4" text-anchor="middle" font-family='"Liberation Sans", sans-serif' font-weight="normal" fill="#111" stroke="#111" stroke-width="0.2">1.8</text>
<text x="573" y="325.7" font-size="11.55" text-anchor="start" font-family='"Liberation Sans", sans-serif' font-weight="normal" fill="#111">Gradient boosting</text>
<text x="620.8" y="456.2" font-size="11.6" text-anchor="middle" font-family='"Liberation Sans", sans-serif' font-weight="normal" fill="#111">Predicted rate</text>
<text transform="translate(540.9 297.7) scale(1 1.09)" x="0" y="0" font-size="13.5" text-anchor="middle" font-family='"Liberation Serif", serif' font-weight="bold" fill="#000">E</text>
<text x="9.3" y="374.1" font-size="11.6" text-anchor="middle" font-family='"Liberation Sans", sans-serif' font-weight="normal" fill="#111" transform="rotate(-90 9.3 374.1)">Experimental rate</text>
</svg>
</body></html>
